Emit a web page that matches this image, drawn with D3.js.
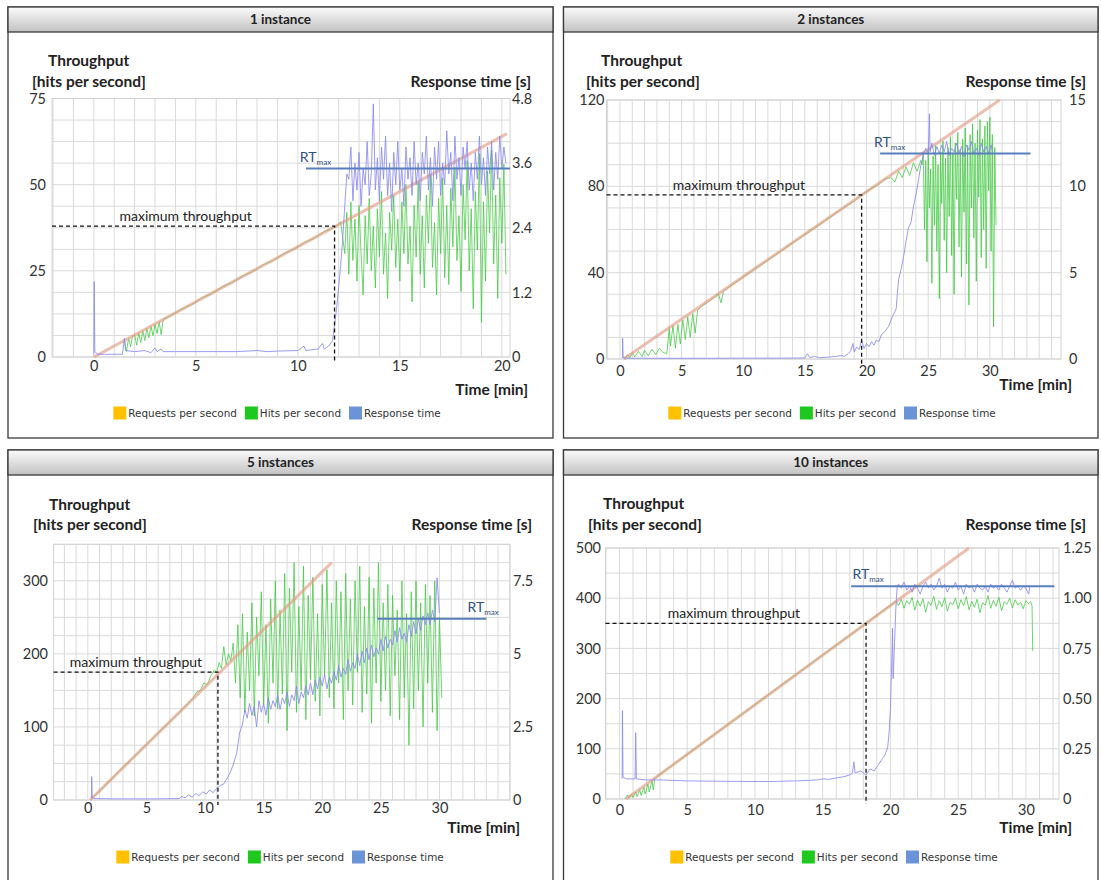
<!DOCTYPE html>
<html>
<head>
<meta charset="utf-8">
<script src="https://cdn.jsdelivr.net/npm/d3@7"></script>
<style>
  body { margin: 0; background: #fff; }
  text { font-family: Lato, "Liberation Sans", sans-serif; }
</style>
</head>
<body>
<div id="chart"></div>
<script>
// ---- data (time in min, throughput in hits/s, response time in s) ----
const titles = ["1 instance", "2 instances", "5 instances", "10 instances"];
const legendNames = ["Requests per second", "Hits per second", "Response time"];
const legendColors = ["#ffc000", "#1ec81e", "#6a93d8"];

// 1 instance
const req1 = [[0, 0], [20.25, 64.8]];
const hits1 = [[1.5,4.8],[1.6,1.6],[1.7,5.4],[1.8,3.0],[1.9,6.0],[2.0,6.4],[2.1,3.4],[2.2,7.0],[2.3,4.2],[2.4,7.6],[2.5,4.8],[2.6,8.3],[2.7,5.6],[2.8,8.9],[2.9,6.2],[3.0,9.5],[3.1,6.8],[3.2,10.2],[3.3,6.5],[3.4,10.9],
  [3.8,12.1],[4.3,13.9],[4.8,15.2],[5.3,17.2],[5.8,18.4],[6.3,20.4],[6.8,21.6],[7.3,23.6],[7.8,24.8],[8.3,26.8],[8.8,28.0],[9.3,30.0],[9.8,31.2],[10.3,33.2],[10.8,34.4],[11.3,36.4],[11.8,37.6],[12.1,39.2],
  [12.3,30],[12.4,42],[12.5,24],[12.6,45],[12.7,28],[12.8,40],[12.9,22],[13.0,44],[13.1,30],[13.2,18],[13.3,41],[13.4,27],[13.5,46],[13.6,25],[13.7,38],[13.8,20],[13.9,43],[14.0,29],[14.1,48],[14.2,24],[14.3,36],[14.4,17],[14.5,42],[14.6,31],[14.7,47],[14.8,26],[14.9,40],[15.0,22],[15.1,45],[15.2,30],[15.3,50],[15.4,27],[15.5,38],[15.6,16],[15.7,44],[15.8,29],[15.9,51],[16.0,24],[16.1,41],[16.2,20],[16.3,47],[16.4,33],[16.5,53],[16.6,26],[16.7,39],[16.8,18],[16.9,46],[17.0,30],[17.1,52],[17.2,23],[17.3,44],[17.4,21],[17.5,49],[17.6,32],[17.7,55],[17.8,28],[17.9,41],[18.0,19],[18.1,50],[18.2,34],[18.3,57],[18.4,25],[18.5,43],[18.6,14],[18.7,48],[18.8,31],[18.9,59],[19.0,10],[19.1,45],[19.2,22],[19.3,54],[19.4,36],[19.5,60],[19.6,27],[19.7,47],[19.8,17],[19.9,52],[20.0,33],[20.1,56],[20.2,24]];
const rt1 = [[0,0.05],[0.02,1.4],[0.05,0.1],[0.2,0.05],[1.4,0.05],[1.5,0.35],[1.55,0.12],[2.0,0.1],[2.5,0.12],[2.8,0.08],[3.0,0.17],[3.1,0.1],[3.3,0.15],[3.4,0.1],[4,0.1],[5,0.1],[6,0.1],[7,0.1],[8,0.12],[8.5,0.1],[9,0.11],[10,0.12],[10.3,0.2],[10.4,0.12],[11,0.15],[11.2,0.25],[11.3,0.15],[11.5,0.2],[11.7,0.3],[11.8,0.6],[11.9,0.9],[12.0,1.3],[12.1,1.7],[12.2,2.2],[12.3,2.8],[12.4,3.4],
  [12.5,3.3],[12.6,3.9],[12.7,2.9],[12.8,3.6],[12.9,3.1],[13.0,3.8],[13.1,2.8],[13.2,3.5],[13.3,3.2],[13.4,4.0],[13.5,3.0],[13.6,3.4],[13.7,4.7],[13.8,3.1],[13.9,3.7],[14.0,2.9],[14.1,3.9],[14.2,3.3],[14.3,4.1],[14.4,3.0],[14.5,3.6],[14.6,2.7],[14.7,3.8],[14.8,3.2],[14.9,4.0],[15.0,3.1],[15.1,3.5],[15.2,2.8],[15.3,3.9],[15.4,3.3],[15.5,3.7],[15.6,3.0],[15.7,4.0],[15.8,3.2],[15.9,3.6],[16.0,2.9],[16.1,3.8],[16.2,3.4],[16.3,4.1],[16.4,3.1],[16.5,3.7],[16.6,2.8],[16.7,3.9],[16.8,3.3],[16.9,4.0],[17.0,3.0],[17.1,3.6],[17.2,3.2],[17.3,4.2],[17.4,3.4],[17.5,3.8],[17.6,2.9],[17.7,4.1],[17.8,3.3],[17.9,3.7],[18.0,3.0],[18.1,3.9],[18.2,3.5],[18.3,4.0],[18.4,3.1],[18.5,3.6],[18.6,2.9],[18.7,3.8],[18.8,3.3],[18.9,4.1],[19.0,3.2],[19.1,3.7],[19.2,3.0],[19.3,3.9],[19.4,3.4],[19.5,4.0],[19.6,3.1],[19.7,3.8],[19.8,3.3],[19.9,4.1],[20.0,3.5],[20.1,3.9],[20.2,3.6]];
const maxTp1 = [11.8, 38];
const rtMax1 = [[10.4, 3.5], [20.4, 3.5]];
const leftTicks1 = [0, 25, 50, 75];
const rightTicks1 = [0, 1.2, 2.4, 3.6, 4.8];
const rightLabels1 = ["0", "1.2", "2.4", "3.6", "4.8"];
const xTicks1 = [0, 5, 10, 15, 20];

// 2 instances
const req2 = [[0.3, 0], [30.8, 120]];
const hits2 = [[0.4,0],[0.6,2],[0.8,0.5],[1.0,3],[1.2,1],[1.5,3.5],[1.8,1.2],[2.0,4],[2.3,1.5],[2.6,4.5],[2.9,2],[3.2,5],[3.5,3],[3.8,2.5],[4.0,14],[4.1,6],[4.3,15.5],[4.5,5],[4.7,16],[4.9,7],[5.1,18],[5.3,9],[5.5,19.5],[5.7,10],[5.9,21],[6.1,12],[6.3,22.5],[6.6,24.6],[7.0,25.8],[7.5,28],[8.0,30],[8.2,26],[8.4,31.5],[9,34],[10,38],[11,42],[12,45.8],[13,49.8],[14,53.8],[15,57.6],[16,61.5],[17,65.5],[18,69.5],[19,73.2],[19.6,76],[20,77.6],[21,81],[21.5,83.5],[22,84],[22.3,82],[22.6,87],[22.9,84],[23.2,89],[23.5,85],[23.8,91],[24.1,87],[24.4,92],[24.5,90],
  [24.6,95],[24.7,60],[24.8,92],[24.9,45],[25.0,97],[25.1,70],[25.2,88],[25.3,35],[25.4,94],[25.5,62],[25.6,99],[25.7,50],[25.8,90],[25.9,28],[26.0,96],[26.1,72],[26.2,101],[26.3,55],[26.4,93],[26.5,40],[26.6,98],[26.7,66],[26.8,103],[26.9,48],[27.0,95],[27.1,30],[27.2,100],[27.3,74],[27.4,105],[27.5,52],[27.6,97],[27.7,38],[27.8,102],[27.9,68],[28.0,107],[28.1,44],[28.2,99],[28.3,25],[28.4,104],[28.5,70],[28.6,109],[28.7,56],[28.8,100],[28.9,36],[29.0,106],[29.1,75],[29.2,111],[29.3,47],[29.4,102],[29.5,60],[29.6,108],[29.7,42],[29.8,110],[29.9,78],[30.0,112],[30.1,50],[30.2,104],[30.3,15],[30.4,98],[30.5,62]];
const rt2 = [[0.2,0.05],[0.22,1.2],[0.26,0.1],[0.5,0.05],[3,0.04],[6,0.04],[10,0.05],[13,0.05],[15,0.06],[15.2,0.3],[15.4,0.08],[15.8,0.15],[16.2,0.07],[17,0.12],[17.5,0.15],[18.0,0.2],[18.2,0.15],[18.5,0.3],[18.7,0.45],[18.9,0.9],[19.0,0.4],[19.2,0.7],[19.4,0.55],[19.6,1.1],[19.8,0.6],[20.0,0.9],[20.2,0.7],[20.4,1.0],[20.6,0.8],[20.8,1.1],[21.0,1.0],[21.2,1.4],[21.5,1.6],[21.8,1.9],[22.0,2.3],[22.2,2.6],[22.4,2.9],[22.5,3.8],[22.6,4.6],[22.8,5.2],[23.0,5.9],[23.2,6.8],[23.4,7.6],[23.6,7.9],[23.8,8.8],[24.0,9.5],[24.2,10.3],[24.4,11.2],[24.6,11.8],[24.8,12.2],[25.0,11.9],[25.1,14.2],[25.15,12.0],
  [25.3,12.5],[25.5,11.8],[25.7,12.3],[25.9,11.9],[26.1,12.4],[26.3,12.0],[26.5,12.6],[26.7,11.8],[26.9,12.2],[27.1,12.0],[27.3,12.5],[27.5,11.9],[27.7,12.3],[27.9,11.7],[28.1,12.4],[28.3,12.1],[28.5,12.6],[28.7,11.9],[28.9,12.2],[29.1,11.8],[29.3,12.5],[29.5,12.0],[29.7,12.3],[29.9,11.9],[30.1,12.4],[30.2,12.0]];
const maxTp2 = [19.6, 76];
const rtMax2 = [[21.1, 11.9], [33.3, 11.9]];
const leftTicks2 = [0, 40, 80, 120];
const rightTicks2 = [0, 5, 10, 15];
const rightLabels2 = ["0", "5", "10", "15"];
const xTicks2 = [0, 5, 10, 15, 20, 25, 30];

// 5 instances
const req3 = [[0.2, 0], [20.8, 325]];
const hits3 = [[0.3,2],[0.6,6],[0.9,11],[1.2,15],[1.5,20],[1.8,26],[2.1,29],[2.4,36],[2.7,40],[3,45],[4,60],[5,76],[6,92],[7,107],[8,123],[9,140],[9.3,148],[9.6,150],[9.9,160],[10.2,158],[10.5,170],[10.8,178],[11.0,174],[11.2,188],[11.4,180],[11.6,210],[11.8,185],[12.0,200],[12.2,190],
  [12.4,215],[12.6,160],[12.8,240],[13.0,140],[13.2,255],[13.4,120],[13.6,230],[13.8,150],[14.0,270],[14.2,115],[14.4,250],[14.6,170],[14.8,285],[15.0,130],[15.2,240],[15.4,105],[15.6,275],[15.8,160],[16.0,300],[16.2,125],[16.4,260],[16.6,145],[16.8,310],[17.0,95],[17.2,290],[17.4,175],[17.6,325],[17.8,120],[18.0,265],[18.2,150],[18.4,320],[18.6,110],[18.8,280],[19.0,165],[19.2,305],[19.4,135],[19.6,255],[19.8,115],[20.0,295],[20.2,170],[20.4,315],[20.6,140],[20.8,270],[21.0,125],[21.2,300],[21.4,160],[21.6,285],[21.8,110],[22.0,310],[22.2,150],[22.4,275],[22.6,130],[22.8,300],[23.0,175],[23.2,320],[23.4,120],[23.6,265],[23.8,145],[24.0,305],[24.2,105],[24.4,290],[24.6,160],[24.8,325],[25.0,135],[25.2,270],[25.4,150],[25.6,295],[25.8,115],[26.0,280],[26.2,170],[26.4,260],[26.6,110],[26.8,300],[27.0,140],[27.2,255],[27.4,75],[27.6,285],[27.8,125],[28.0,300],[28.2,150],[28.4,270],[28.6,100],[28.8,295],[29.0,160],[29.2,280],[29.4,120],[29.6,300],[29.8,95],[30.0,250],[30.2,140]];
const rt3 = [[0.3,0.05],[0.33,0.8],[0.38,0.08],[0.6,0.05],[2,0.04],[4,0.04],[6,0.04],[7.8,0.05],[8.0,0.12],[8.3,0.08],[8.6,0.18],[8.9,0.1],[9.2,0.22],[9.5,0.15],[9.8,0.28],[10.1,0.2],[10.4,0.35],[10.7,0.25],[11.0,0.4],[11.3,0.5],[11.6,0.55],[11.9,0.75],[12.1,0.9],[12.4,1.2],[12.7,1.6],[12.95,2.3],
  [13.2,2.6],[13.4,3.1],[13.6,2.8],[13.8,3.3],[14.0,2.9],[14.2,3.2],[14.4,2.5],[14.6,3.4],[14.8,3.0],[15.0,3.3],[15.2,2.9],[15.4,3.5],[15.6,3.1],[15.8,3.4],[16.0,3.2],[16.2,3.6],[16.4,3.1],[16.6,3.5],[16.8,3.3],[17.0,3.7],[17.2,3.2],[17.4,3.6],[17.6,3.4],[17.8,3.9],[18.0,3.3],[18.2,3.7],[18.4,3.5],[18.6,3.9],[18.8,3.6],[19.0,4.0],[19.2,3.6],[19.4,4.1],[19.6,3.8],[19.8,4.2],[20.0,3.9],[20.2,4.3],[20.4,3.8],[20.6,4.2],[20.8,4.0],[21.0,4.4],[21.2,4.1],[21.4,4.6],[21.6,4.2],[21.8,4.5],[22.0,4.3],[22.2,4.8],[22.4,4.4],[22.6,4.7],[22.8,4.5],[23.0,5.0],[23.2,4.6],[23.4,5.1],[23.6,4.7],[23.8,5.2],[24.0,4.8],[24.2,5.3],[24.4,4.9],[24.6,5.2],[24.8,5.0],[25.0,5.5],[25.2,5.1],[25.4,5.6],[25.6,5.2],[25.8,5.5],[26.0,5.3],[26.2,5.8],[26.4,5.4],[26.6,5.9],[26.8,5.5],[27.0,5.7],[27.2,5.4],[27.4,6.0],[27.6,5.6],[27.8,6.1],[28.0,5.7],[28.2,6.2],[28.4,5.8],[28.6,6.3],[28.8,6.0],[29.0,6.4],[29.2,6.0],[29.4,6.5],[29.6,6.1],[29.8,7.6],[30.0,6.4]];
const maxTp3 = [11.1, 175];
const rtMax3 = [[24.7, 6.2], [34, 6.2]];
const leftTicks3 = [0, 100, 200, 300];
const rightTicks3 = [0, 2.5, 5, 7.5];
const rightLabels3 = ["0", "2.5", "5", "7.5"];
const xTicks3 = [0, 5, 10, 15, 20, 25, 30];

// 10 instances
const req4 = [[0.5, 0], [25.8, 500]];
const hits4 = [[0.4,0],[0.6,8],[0.7,2],[0.9,10],[1.0,3],[1.2,14],[1.3,5],[1.5,19],[1.6,7],[1.8,24],[1.9,10],[2.1,30],[2.2,14],[2.4,37],[2.5,18],[2.6,40],[3,49],[5,89],[8,148],[10,188],[12,228],[15,287],[18,346],[19,366],[20,386],[20.4,394],
  [20.6,385],[20.8,398],[21.0,380],[21.2,395],[21.4,388],[21.6,402],[21.8,376],[22.0,396],[22.2,384],[22.4,399],[22.6,372],[22.8,393],[23.0,386],[23.2,404],[23.4,378],[23.6,395],[23.8,383],[24.0,401],[24.2,374],[24.4,392],[24.6,387],[24.8,400],[25.0,379],[25.2,397],[25.4,385],[25.6,403],[25.8,377],[26.0,394],[26.2,382],[26.4,398],[26.6,371],[26.8,391],[27.0,386],[27.2,405],[27.4,380],[27.6,396],[27.8,384],[28.0,402],[28.2,375],[28.4,393],[28.6,388],[28.8,400],[29.0,381],[29.2,397],[29.4,386],[29.6,392],[29.8,379],[30.0,395],[30.2,389],[30.35,393],[30.45,385],[30.5,295]];
const rt4 = [[0.2,0.1],[0.22,0.44],[0.26,0.11],[0.5,0.1],[1.0,0.1],[1.15,0.1],[1.2,0.33],[1.25,0.1],[2,0.095],[3,0.095],[5,0.09],[8,0.088],[11,0.087],[13,0.09],[14,0.093],[14.6,0.095],[15,0.1],[15.5,0.098],[16,0.105],[16.5,0.11],[17,0.12],[17.2,0.13],[17.3,0.185],[17.4,0.13],[17.8,0.14],[18.2,0.12],[18.5,0.15],[18.8,0.14],[19.1,0.17],[19.4,0.2],[19.6,0.22],[19.8,0.26],[19.9,0.33],[20.0,0.45],[20.1,0.7],[20.15,0.85],[20.2,0.6],[20.3,0.78],[20.4,0.95],[20.5,1.06],
  [20.6,1.07],[20.8,1.05],[21.0,1.08],[21.2,1.04],[21.4,1.06],[21.6,1.03],[21.8,1.07],[22.0,1.05],[22.2,1.02],[22.4,1.06],[22.6,1.08],[22.8,1.05],[23.0,1.07],[23.2,1.04],[23.4,1.06],[23.6,1.10],[23.8,1.05],[24.0,1.07],[24.2,1.03],[24.4,1.06],[24.6,1.05],[24.8,1.08],[25.0,1.04],[25.2,1.06],[25.4,1.02],[25.6,1.07],[25.8,1.05],[26.0,1.06],[26.2,1.03],[26.4,1.07],[26.6,1.05],[26.8,1.04],[27.0,1.06],[27.2,1.03],[27.4,1.07],[27.6,1.05],[27.8,1.06],[28.0,1.04],[28.2,1.07],[28.4,1.05],[28.6,1.03],[28.8,1.06],[29.0,1.09],[29.2,1.05],[29.4,1.06],[29.6,1.04],[29.8,1.06],[30.0,1.05],[30.2,1.02],[30.3,1.06]];
const maxTp4 = [18.2, 350];
const rtMax4 = [[17.1, 1.06], [32.1, 1.06]];
const leftTicks4 = [0, 100, 200, 300, 400, 500];
const rightTicks4 = [0, 0.25, 0.5, 0.75, 1, 1.25];
const rightLabels4 = ["0", "0.25", "0.50", "0.75", "1.00", "1.25"];
const xTicks4 = [0, 5, 10, 15, 20, 25, 30];

// ---- layout of each panel ----
const panels = [
  { title: titles[0], req: req1, hits: hits1, rt: rt1, maxTp: maxTp1, rtMax: rtMax1,
    leftTicks: leftTicks1, rightTicks: rightTicks1, rightLabels: rightLabels1, xTicks: xTicks1,
    leftMax: 75, rightMax: 4.8, gridStep: 6.25,
    frame: [8, 7, 545, 431], xr: [52, 510], yr: [357, 98.5], xDom: [-2.05, 20.4],
    tp: [48, 66], hps: [32, 87], rtLab: [531, 87], time: [528, 395],
    xPad: 3.5, lPad: 6, rPad: 2, leg: [277, 413], mtX: 4.5, rtX: 10.1 },
  { title: titles[1], req: req2, hits: hits2, rt: rt2, maxTp: maxTp2, rtMax: rtMax2,
    leftTicks: leftTicks2, rightTicks: rightTicks2, rightLabels: rightLabels2, xTicks: xTicks2,
    leftMax: 120, rightMax: 15, gridStep: 10,
    frame: [563.5, 7, 534.5, 431], xr: [606.5, 1061], yr: [359, 100], xDom: [-1.09, 35.77],
    tp: [601, 66], hps: [586, 87], rtLab: [1086, 87], time: [1072, 390],
    xPad: 6.5, lPad: 2, rPad: 8, leg: [832, 413], mtX: 9.65, rtX: 20.6 },
  { title: titles[2], req: req3, hits: hits3, rt: rt3, maxTp: maxTp3, rtMax: rtMax3,
    leftTicks: leftTicks3, rightTicks: rightTicks3, rightLabels: rightLabels3, xTicks: xTicks3,
    leftMax: 350, rightMax: 8.75, gridStep: 25,
    frame: [8, 450, 545, 440], xr: [53.6, 510], yr: [800, 544.3], xDom: [-2.92, 36.02],
    tp: [49, 510], hps: [33, 530], rtLab: [532, 530], time: [520, 833],
    xPad: 2.5, lPad: 5.6, rPad: 3, leg: [280, 857], mtX: 4.1, rtX: 32.4 },
  { title: titles[3], req: req4, hits: hits4, rt: rt4, maxTp: maxTp4, rtMax: rtMax4,
    leftTicks: leftTicks4, rightTicks: rightTicks4, rightLabels: rightLabels4, xTicks: xTicks4,
    leftMax: 500, rightMax: 1.25, gridStep: 50,
    frame: [563.5, 450, 534.5, 440], xr: [605.5, 1059], yr: [799, 548], xDom: [-1.03, 32.44],
    tp: [603, 509], hps: [588, 530], rtLab: [1086, 530], time: [1072, 833],
    xPad: 5.5, lPad: 4.5, rPad: 4, leg: [834, 857], mtX: 8.45, rtX: 17.2 }
];

const svg = d3.select("#chart").append("svg")
  .attr("width", 1101).attr("height", 880);
const defs = svg.append("defs");
const grad = defs.append("linearGradient").attr("id", "bar")
  .attr("x1", 0).attr("y1", 0).attr("x2", 0).attr("y2", 1);
grad.append("stop").attr("offset", "0%").attr("stop-color", "#fbfbfb");
grad.append("stop").attr("offset", "100%").attr("stop-color", "#c2c2c2");

panels.forEach((p, i) => {
  const [fx, fy, fw, fh] = p.frame;
  const g = svg.append("g");

  // frame + title bar
  g.append("rect").attr("x", fx).attr("y", fy).attr("width", fw).attr("height", fh)
    .attr("fill", "#fff").attr("stroke", "#3a3a3a").attr("stroke-width", 1.3);
  g.append("rect").attr("x", fx).attr("y", fy).attr("width", fw).attr("height", 25)
    .attr("fill", "url(#bar)").attr("stroke", "#3a3a3a").attr("stroke-width", 1.3);
  g.append("text").attr("x", fx + fw / 2).attr("y", fy + 17)
    .attr("text-anchor", "middle").attr("font-size", 13.5).attr("font-weight", "bold")
    .attr("fill", "#222").text(p.title);

  const x = d3.scaleLinear().domain(p.xDom).range(p.xr);
  const yL = d3.scaleLinear().domain([0, p.leftMax]).range(p.yr);
  const yR = d3.scaleLinear().domain([0, p.rightMax]).range(p.yr);

  // grid
  const grid = g.append("g").attr("stroke", "#dadada").attr("stroke-width", 1);
  grid.selectAll("line.v")
    .data(d3.range(Math.ceil(p.xDom[0]), Math.floor(p.xDom[1]) + 1))
    .enter().append("line")
    .attr("x1", d => x(d)).attr("x2", d => x(d))
    .attr("y1", p.yr[0]).attr("y2", p.yr[1]);
  grid.selectAll("line.h")
    .data(d3.range(0, p.leftMax + 0.001, p.gridStep))
    .enter().append("line")
    .attr("x1", p.xr[0]).attr("x2", p.xr[1])
    .attr("y1", d => yL(d)).attr("y2", d => yL(d));
  g.append("rect").attr("x", p.xr[0]).attr("y", p.yr[1])
    .attr("width", p.xr[1] - p.xr[0]).attr("height", p.yr[0] - p.yr[1])
    .attr("fill", "none").attr("stroke", "#d2d2d2");

  // clip
  defs.append("clipPath").attr("id", "clip" + i).append("rect")
    .attr("x", p.xr[0]).attr("y", p.yr[1] - 1)
    .attr("width", p.xr[1] - p.xr[0]).attr("height", p.yr[0] - p.yr[1] + 2);
  const plot = g.append("g").attr("clip-path", `url(#clip${i})`);

  const lineL = d3.line().x(d => x(d[0])).y(d => yL(d[1]));
  const lineR = d3.line().x(d => x(d[0])).y(d => yR(d[1]));

  plot.append("path").datum(p.hits).attr("d", lineL)
    .attr("fill", "none").attr("stroke", "#3ec83e").attr("stroke-width", 1)
    .attr("stroke-opacity", 0.75);
  plot.append("path").datum(p.req).attr("d", lineL)
    .attr("fill", "none").attr("stroke", "#e49c86").attr("stroke-width", 3)
    .attr("stroke-opacity", 0.65);
  plot.append("path").datum(p.rt).attr("d", lineR)
    .attr("fill", "none").attr("stroke", "#8a8af0").attr("stroke-width", 1)
    .attr("stroke-opacity", 0.85);

  // RT max
  g.append("path").datum(p.rtMax).attr("d", lineR)
    .attr("fill", "none").attr("stroke", "#5a7fbf").attr("stroke-width", 2);
  const rtLabel = g.append("text")
    .attr("x", x(p.rtX)).attr("y", yR(p.rtMax[0][1]) - 7)
    .attr("font-size", 14).attr("fill", "#2f4f7f");
  rtLabel.append("tspan").text("RT");
  rtLabel.append("tspan").attr("font-size", 8).attr("dy", 3).text("max");

  // maximum throughput
  const [mt, mv] = p.maxTp;
  g.append("path")
    .attr("d", `M${p.xr[0]},${yL(mv)}H${x(mt)}V${p.yr[0] + 5}`)
    .attr("fill", "none").attr("stroke", "#111").attr("stroke-width", 1.3)
    .attr("stroke-dasharray", "4,3");
  g.append("text").attr("x", x(p.mtX)).attr("y", yL(mv) - 5)
    .attr("text-anchor", "middle").attr("font-size", 14).attr("fill", "#222")
    .text("maximum throughput");

  // axes
  const axL = g.append("g").attr("transform", `translate(${p.xr[0]},0)`)
    .call(d3.axisLeft(yL).tickValues(p.leftTicks).tickSize(0).tickPadding(p.lPad));
  const axR = g.append("g").attr("transform", `translate(${p.xr[1]},0)`)
    .call(d3.axisRight(yR).tickValues(p.rightTicks).tickSize(0).tickPadding(p.rPad)
      .tickFormat((d, k) => p.rightLabels[k]));
  const axB = g.append("g").attr("transform", `translate(0,${p.yr[0]})`)
    .call(d3.axisBottom(x).tickValues(p.xTicks).tickSize(0).tickPadding(p.xPad));
  [axL, axR, axB].forEach(a => {
    a.select(".domain").remove();
    a.selectAll("text").attr("font-size", 14.5).attr("fill", "#333")
      .attr("font-family", "Lato, 'Liberation Sans', sans-serif");
  });

  // axis titles
  const bold = (tx, ty, anchor, s) => g.append("text").attr("x", tx).attr("y", ty)
    .attr("text-anchor", anchor).attr("font-size", 15.5).attr("font-weight", "bold")
    .attr("fill", "#222").text(s);
  bold(p.tp[0], p.tp[1], "start", "Throughput");
  bold(p.hps[0], p.hps[1], "start", "[hits per second]");
  bold(p.rtLab[0], p.rtLab[1], "end", "Response time [s]");
  bold(p.time[0], p.time[1], "end", "Time [min]");

  // legend
  const leg = g.append("g");
  let off = 0;
  legendNames.forEach((name, k) => {
    leg.append("rect").attr("x", off).attr("y", -6.5).attr("width", 13).attr("height", 13)
      .attr("fill", legendColors[k]);
    const t = leg.append("text").attr("x", off + 15).attr("y", 4)
      .attr("font-size", 10.4).attr("fill", "#333")
      .style("font-family", "'DejaVu Sans', sans-serif").text(name);
    off += 15 + t.node().getComputedTextLength() + 8;
  });
  off -= 8;
  leg.attr("transform", `translate(${p.leg[0] - off / 2},${p.leg[1]})`);
});
</script>
</body>
</html>
